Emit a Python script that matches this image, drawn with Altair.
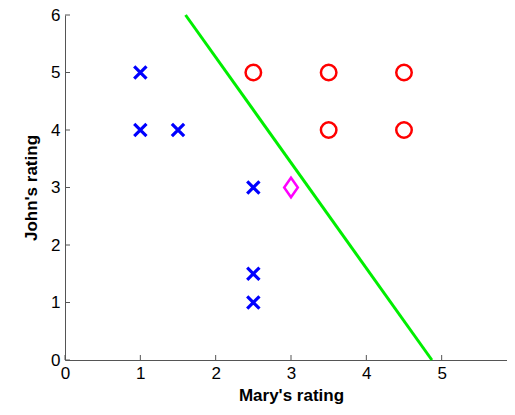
import altair as alt
import pandas as pd

# data
x_mary = [1, 1, 1.5, 2.5, 2.5, 2.5]
y_john = [5, 4, 4, 3, 1.5, 1]
o_mary = [2.5, 3.5, 4.5, 3.5, 4.5]
o_john = [5, 5, 5, 4, 4]
q_mary = [3]
q_john = [3]
line_x = [1.6, 4.87]
line_y = [6, 0]
ticks = [0, 1, 2, 3, 4, 5, 6]

W, H = 452, 345

xs = alt.Scale(domain=[0, 6], nice=False)
ys = alt.Scale(domain=[0, 6], nice=False)

font = "Liberation Sans"

xenc = alt.X("x:Q", scale=xs, title="Mary's rating",
             axis=alt.Axis(values=ticks, format="d", grid=False, tickSize=0, domainColor="#555",
                           labelFontSize=17, labelColor="black", labelPadding=5, labelFont=font,
                           titleFontSize=17, titleFontWeight="bold", titleFont=font, titlePadding=6,
                           titleColor="black", labelFlush=False, labelOverlap=False))
yenc = alt.Y("y:Q", scale=ys, title="John's rating",
             axis=alt.Axis(values=ticks, format="d", grid=False, tickSize=0, domainColor="#555",
                           labelFontSize=17, labelColor="black", labelPadding=5, labelFont=font,
                           titleFontSize=17, titleFontWeight="bold", titleFont=font, titlePadding=10,
                           titleColor="black", labelFlush=False, labelOverlap=False))

df_x = pd.DataFrame({"x": x_mary, "y": y_john})
df_o = pd.DataFrame({"x": o_mary, "y": o_john})
df_q = pd.DataFrame({"x": q_mary, "y": q_john})
df_l = pd.DataFrame({"x": line_x, "y": line_y})
df_t = pd.DataFrame({"t": ticks})

line = alt.Chart(df_l).mark_line(color="#00ee00", strokeWidth=3).encode(x=xenc, y=yenc)
xs_mark = alt.Chart(df_x).mark_point(
    shape="M-1,-1L1,1M-1,1L1,-1", filled=False, color="#0000ff", strokeWidth=3.2, size=150, opacity=1
).encode(x="x:Q", y="y:Q")
os_mark = alt.Chart(df_o).mark_point(
    shape="circle", filled=False, color="#ff0000", strokeWidth=2.5, size=240, opacity=1
).encode(x="x:Q", y="y:Q")
q_mark = alt.Chart(df_q).mark_point(
    shape="M0,-1L0.7,0L0,1L-0.7,0Z", filled=False, color="#ff00ff", strokeWidth=2.5, size=380, opacity=1
).encode(x="x:Q", y="y:Q")

xt = alt.Chart(df_t).mark_rule(color="#555", strokeWidth=1).encode(
    x=alt.X("t:Q", scale=xs), y=alt.value(H), y2=alt.value(H - 5))
yt = alt.Chart(df_t).mark_rule(color="#555", strokeWidth=1).encode(
    y=alt.Y("t:Q", scale=ys), x=alt.value(0), x2=alt.value(5))

chart = alt.layer(line, xt, yt, xs_mark, os_mark, q_mark).properties(
    width=W, height=H, background="white",
    autosize=alt.AutoSizeParams(type="none"),
    padding={"left": 57, "top": 7, "right": -10, "bottom": 47}
).configure_view(stroke=None)

chart.save("out.html", embed_options={"renderer": "svg", "actions": False})
